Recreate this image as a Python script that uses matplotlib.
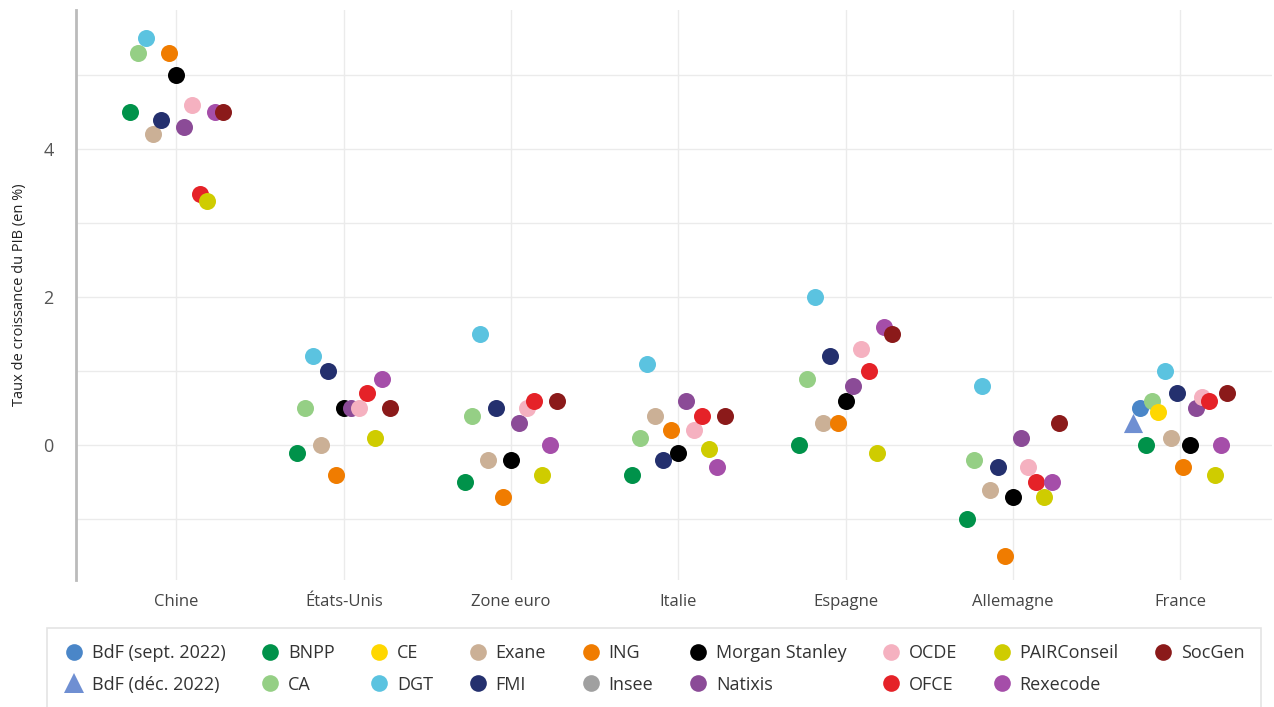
import numpy as np
import matplotlib.pyplot as plt
from matplotlib.lines import Line2D

plt.rcParams['font.family'] = ['Open Sans', 'DejaVu Sans']

# Pays (axe des x)
pays = ["Chine", "États-Unis", "Zone euro", "Italie", "Espagne", "Allemagne", "France"]

# Prévisions de croissance du PIB (en %), None = pas de prévision
bdf_dec = [None, None, None, None, None, None, 0.3]
bdf_sept = [None, None, None, None, None, None, 0.5]
bnpp = [4.5, -0.1, -0.5, -0.4, 0.0, -1.0, 0.0]
ca = [5.3, 0.5, 0.4, 0.1, 0.9, -0.2, 0.6]
ce = [None, None, None, None, None, None, 0.45]
dgt = [5.5, 1.2, 1.5, 1.1, 2.0, 0.8, 1.0]
exane = [4.2, 0.0, -0.2, 0.4, 0.3, -0.6, 0.1]
fmi = [4.4, 1.0, 0.5, -0.2, 1.2, -0.3, 0.7]
ing = [5.3, -0.4, -0.7, 0.2, 0.3, -1.5, -0.3]
insee = [None, None, None, None, None, None, None]
morgan = [5.0, 0.5, -0.2, -0.1, 0.6, -0.7, 0.0]
natixis = [4.3, 0.5, 0.3, 0.6, 0.8, 0.1, 0.5]
ocde = [4.6, 0.5, 0.5, 0.2, 1.3, -0.3, 0.65]
ofce = [3.4, 0.7, 0.6, 0.4, 1.0, -0.5, 0.6]
pair = [3.3, 0.1, -0.4, -0.05, -0.1, -0.7, -0.4]
rexecode = [4.5, 0.9, 0.0, -0.3, 1.6, -0.5, 0.0]
socgen = [4.5, 0.5, 0.6, 0.4, 1.5, 0.3, 0.7]

# (nom, valeurs, couleur, marqueur) dans l'ordre de tracé
series = [
    ("BdF (déc. 2022)", bdf_dec, "#6f8fd2", "^"),
    ("BdF (sept. 2022)", bdf_sept, "#4a86c8", "o"),
    ("BNPP", bnpp, "#00924a", "o"),
    ("CA", ca, "#95cf85", "o"),
    ("CE", ce, "#ffd700", "o"),
    ("DGT", dgt, "#5bc3e0", "o"),
    ("Exane", exane, "#cbb096", "o"),
    ("FMI", fmi, "#24306e", "o"),
    ("ING", ing, "#f07c00", "o"),
    ("Insee", insee, "#a0a0a0", "o"),
    ("Morgan Stanley", morgan, "#000000", "o"),
    ("Natixis", natixis, "#8b4b97", "o"),
    ("OCDE", ocde, "#f5b1c0", "o"),
    ("OFCE", ofce, "#e52228", "o"),
    ("PAIRConseil", pair, "#cfcc00", "o"),
    ("Rexecode", rexecode, "#a54ea9", "o"),
    ("SocGen", socgen, "#8b1a1a", "o"),
]

fig = plt.figure(figsize=(12.74, 7.07), dpi=100)
ax = fig.add_axes([0.0597, 0.1797, 0.939, 0.806])

# Décalage horizontal (dodge) selon le nombre de séries présentes par pays
largeur = 0.6
for j in range(len(pays)):
    presents = [s for s in series if s[1][j] is not None]
    n = len(presents)
    for k, (nom, vals, col, mk) in enumerate(presents):
        x = j + (k - (n - 1) / 2) * largeur / n
        ax.scatter(x, vals[j], s=190 if mk == "^" else 150, color=col,
                   marker=mk, linewidths=0, zorder=3)

ax.set_xlim(-0.6, 6.55)
ax.set_ylim(-1.82, 5.88)
ax.set_xticks(range(len(pays)))
ax.set_xticklabels(pays, fontsize=12, color="#444444")
ax.set_yticks([0, 2, 4])
ax.set_yticks([-1, 1, 3, 5], minor=True)
ax.tick_params(axis="y", which="both", length=0, labelsize=13, labelcolor="#555555", pad=16)
ax.tick_params(axis="x", length=0, pad=10)
ax.grid(True, which="both", color="#ebebeb", linewidth=1)
ax.set_axisbelow(True)
for side in ["top", "right", "bottom"]:
    ax.spines[side].set_visible(False)
ax.spines["left"].set_color("#bbbbbb")
ax.spines["left"].set_linewidth(2)
ax.set_ylabel("Taux de croissance du PIB (en %)", fontsize=10.5, color="#222222", labelpad=12)

# Légende (ordre colonne par colonne)
ordre = ["BdF (sept. 2022)", "BdF (déc. 2022)", "BNPP", "CA", "CE", "DGT",
         "Exane", "FMI", "ING", "Insee", "Morgan Stanley", "Natixis",
         "OCDE", "OFCE", "PAIRConseil", "Rexecode", "SocGen"]
info = {s[0]: s for s in series}
handles = []
for nom in ordre:
    s = info[nom]
    handles.append(Line2D([], [], linestyle="none", marker=s[3], color=s[2],
                          markersize=14 if s[3] == "^" else 12, markeredgewidth=0))
leg = fig.legend(handles, ordre, ncol=9, loc="upper left", mode="expand",
                 bbox_to_anchor=(38 / 1274, 1 - 626 / 707, 1232 / 1274, 0.01),
                 fontsize=13, frameon=True, fancybox=False, edgecolor="#dddddd",
                 handletextpad=0.4, columnspacing=0.6, handlelength=1.2,
                 labelspacing=0.75, borderpad=0.9)
leg.get_frame().set_linewidth(1.2)
for t in leg.get_texts():
    t.set_color("#333333")

fig.savefig("out.png", dpi=100)
